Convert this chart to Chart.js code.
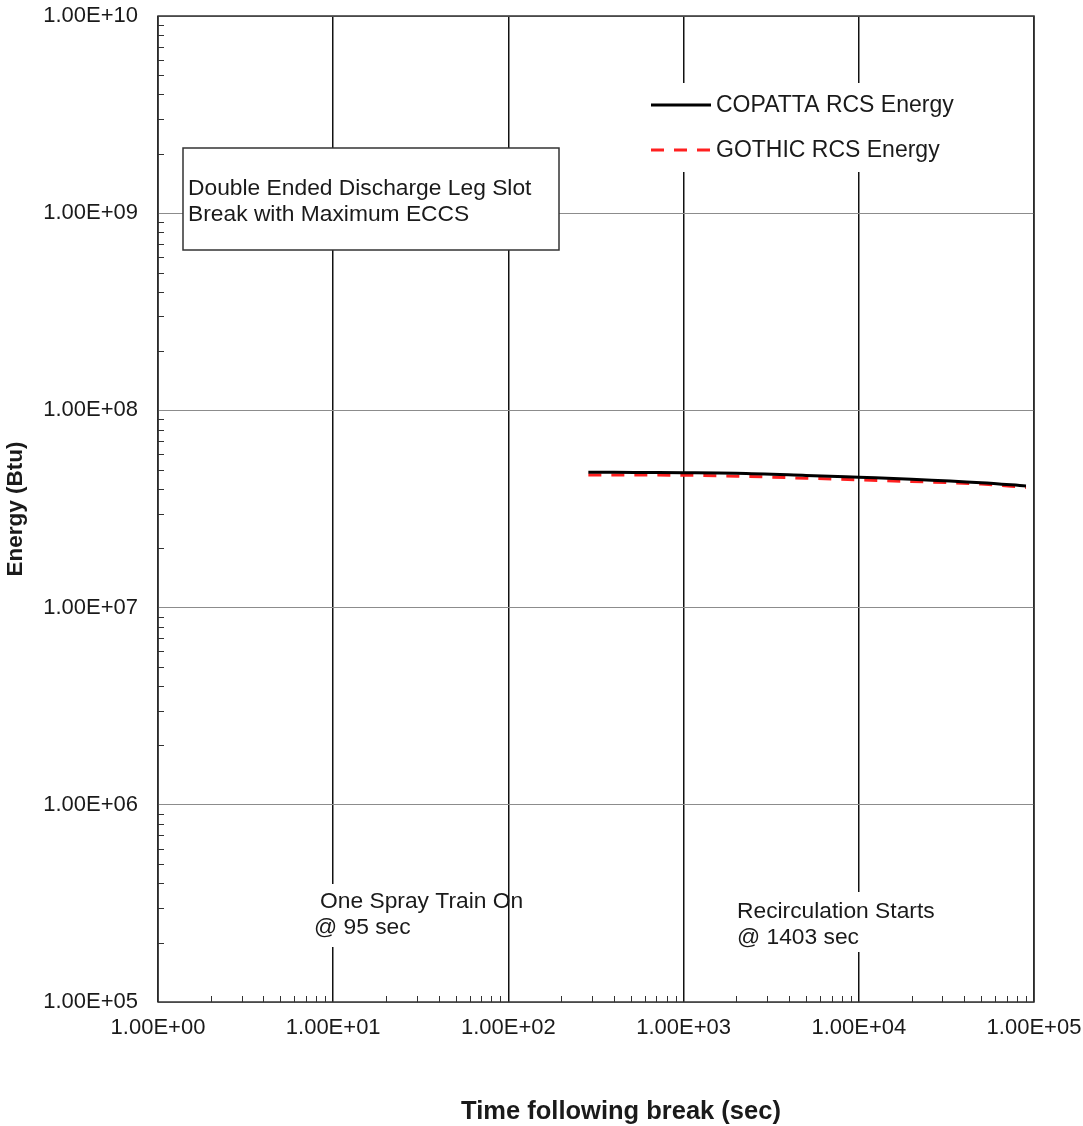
<!DOCTYPE html>
<html>
<head>
<meta charset="utf-8">
<script src="https://cdn.jsdelivr.net/npm/chart.js@4.4.1/dist/chart.umd.min.js"></script>
<style>
html,body{margin:0;padding:0;background:#fff;}
#wrap{width:1083px;height:1126px;}
</style>
</head>
<body>
<div id="wrap"><canvas id="c" width="1083" height="1126"></canvas></div>
<script>
// ---- data ----
const timeSec = [286, 400, 600, 1000, 2000, 5000, 10000, 20000, 50000, 90000];
const copattaEnergy = [4.85e7, 4.85e7, 4.84e7, 4.83e7, 4.80e7, 4.68e7, 4.58e7, 4.48e7, 4.30e7, 4.14e7];
const gothicEnergy  = [4.70e7, 4.70e7, 4.70e7, 4.69e7, 4.64e7, 4.53e7, 4.44e7, 4.36e7, 4.23e7, 4.07e7];
const xTickValues = [1, 10, 100, 1000, 10000, 100000];
const yTickValues = [1e5, 1e6, 1e7, 1e8, 1e9, 1e10];
const xTickLabels = ["1.00E+00", "1.00E+01", "1.00E+02", "1.00E+03", "1.00E+04", "1.00E+05"];
const yTickLabels = ["1.00E+05", "1.00E+06", "1.00E+07", "1.00E+08", "1.00E+09", "1.00E+10"];
const seriesNames = ["COPATTA RCS Energy", "GOTHIC RCS Energy"];
const boxText = ["Double Ended Discharge Leg Slot", "Break with Maximum ECCS"];
const sprayText = ["One Spray Train On", "@ 95 sec"];
const recircText = ["Recirculation Starts", "@ 1403 sec"];
const xTitle = "Time following break (sec)";
const yTitle = "Energy (Btu)";

const FONT = '"Liberation Sans", Arial, sans-serif';
const TXT = '#1a1a1a';

const overlay = {
  id: 'overlay',
  afterDatasetsDraw(chart) {
    const ctx = chart.ctx;
    const xs = chart.scales.x, ys = chart.scales.y;
    const a = chart.chartArea;
    ctx.save();
    // minor ticks
    ctx.strokeStyle = '#333';
    ctx.lineWidth = 1;
    for (let d = 0; d < 5; d++) {
      for (let m = 2; m <= 9; m++) {
        const px = Math.round(xs.getPixelForValue(m * Math.pow(10, d))) + 0.5;
        ctx.beginPath(); ctx.moveTo(px, a.bottom); ctx.lineTo(px, a.bottom - 6); ctx.stroke();
        const py = Math.round(ys.getPixelForValue(m * Math.pow(10, d + 5))) + 0.5;
        ctx.beginPath(); ctx.moveTo(a.left, py); ctx.lineTo(a.left + 6, py); ctx.stroke();
      }
    }
    // frame
    ctx.strokeStyle = '#333';
    ctx.lineWidth = 1.5;
    ctx.strokeRect(a.left, a.top, a.right - a.left, a.bottom - a.top);

    // annotation box
    ctx.fillStyle = '#fff';
    ctx.fillRect(183, 148, 376, 102);
    ctx.strokeStyle = '#333';
    ctx.lineWidth = 1.5;
    ctx.strokeRect(183, 148, 376, 102);
    ctx.fillStyle = TXT;
    ctx.font = '22.8px ' + FONT;
    ctx.textAlign = 'left';
    ctx.textBaseline = 'alphabetic';
    ctx.fillText(boxText[0], 188, 195);
    ctx.fillText(boxText[1], 188, 221);

    // spray / recirc text with white backgrounds
    ctx.fillStyle = '#fff';
    ctx.fillRect(316, 884, 188, 63);
    ctx.fillRect(734, 892, 202, 60);
    ctx.fillStyle = TXT;
    ctx.fillText(sprayText[0], 320, 908);
    ctx.fillText(sprayText[1], 314, 934);
    ctx.fillText(recircText[0], 737, 918);
    ctx.fillText(recircText[1], 737, 944);

    // legend
    ctx.fillStyle = '#fff';
    ctx.fillRect(648, 83, 314, 89);
    ctx.lineWidth = 3;
    ctx.strokeStyle = '#000';
    ctx.beginPath(); ctx.moveTo(651, 105); ctx.lineTo(711, 105); ctx.stroke();
    ctx.strokeStyle = 'rgb(255,32,32)';
    ctx.setLineDash([13, 10]);
    ctx.beginPath(); ctx.moveTo(651, 150); ctx.lineTo(711, 150); ctx.stroke();
    ctx.setLineDash([]);
    ctx.fillStyle = TXT;
    ctx.font = '23px ' + FONT;
    ctx.fillText(seriesNames[0], 716, 112);
    ctx.fillText(seriesNames[1], 716, 157);

    // tick labels
    ctx.font = '22px ' + FONT;
    ctx.textAlign = 'center';
    ctx.textBaseline = 'middle';
    xTickValues.forEach((v, i) => {
      ctx.fillText(xTickLabels[i], xs.getPixelForValue(v), 1028);
    });
    ctx.textAlign = 'right';
    yTickValues.forEach((v, i) => {
      ctx.fillText(yTickLabels[i], 138, ys.getPixelForValue(v));
    });

    // axis titles
    ctx.font = 'bold 25.5px ' + FONT;
    ctx.textAlign = 'center';
    ctx.fillText(xTitle, 621, 1112);
    ctx.font = 'bold 22.5px ' + FONT;
    ctx.save();
    ctx.translate(16, (a.top + a.bottom) / 2);
    ctx.rotate(-Math.PI / 2);
    ctx.fillText(yTitle, 0, 0);
    ctx.restore();
    ctx.restore();
  }
};

new Chart(document.getElementById('c'), {
  type: 'line',
  data: {
    labels: timeSec,
    datasets: [
      {
        label: seriesNames[0],
        data: timeSec.map((t, i) => ({x: t, y: copattaEnergy[i]})),
        borderColor: '#000',
        borderWidth: 3,
        pointRadius: 0,
        cubicInterpolationMode: 'monotone',
        fill: false
      },
      {
        label: seriesNames[1],
        data: timeSec.map((t, i) => ({x: t, y: gothicEnergy[i]})),
        borderColor: 'rgb(255,32,32)',
        borderWidth: 3,
        borderDash: [13, 10],
        pointRadius: 0,
        cubicInterpolationMode: 'monotone',
        fill: false
      }
    ]
  },
  options: {
    responsive: false,
    animation: false,
    devicePixelRatio: 1,
    layout: {padding: {top: 16, right: 49, left: 0, bottom: 0}},
    plugins: {legend: {display: false}, tooltip: {enabled: false}},
    scales: {
      x: {
        type: 'logarithmic',
        min: 1, max: 1e5,
        afterBuildTicks: s => { s.ticks = xTickValues.map(v => ({value: v})); },
        afterFit: s => { s.height = 124; },
        ticks: {display: false},
        grid: {color: '#111', lineWidth: 1.5, drawTicks: false},
        border: {display: false}
      },
      y: {
        type: 'logarithmic',
        min: 1e5, max: 1e10,
        afterBuildTicks: s => { s.ticks = yTickValues.map(v => ({value: v})); },
        afterFit: s => { s.width = 158; },
        ticks: {display: false},
        grid: {color: '#8c8c8c', lineWidth: 1, drawTicks: false},
        border: {display: false}
      }
    }
  },
  plugins: [overlay]
});
</script>
</body>
</html>
